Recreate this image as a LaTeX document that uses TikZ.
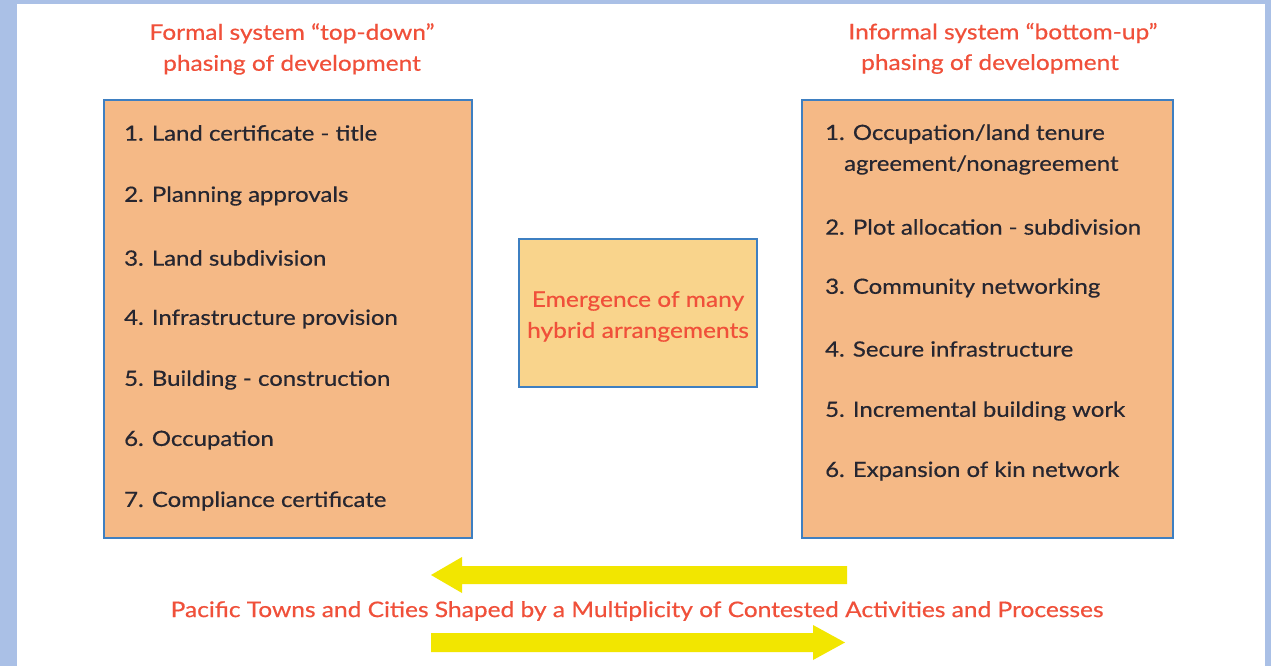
\documentclass[tikz,border=0pt]{standalone}
\usepackage{fontspec}
\setmainfont{Lato}
\newfontfamily\diagfont{Lato}[FakeStretch=1.14,FakeBold=0.5]
\usetikzlibrary{arrows.meta}
\definecolor{frame}{HTML}{AAC0E6}
\definecolor{boxfill}{HTML}{F5B986}
\definecolor{midfill}{HTML}{F9D48C}
\definecolor{boxline}{HTML}{3E7FC1}
\definecolor{redtext}{HTML}{F0503A}
\definecolor{arrowyel}{HTML}{F2E600}
\definecolor{darktext}{HTML}{262630}
\begin{document}
\begin{tikzpicture}[x=1pt,y=-1pt,
  panel/.style={draw=boxline,line width=1.6pt,fill=boxfill},
  midpanel/.style={draw=boxline,line width=1.6pt,fill=midfill},
  item/.style={anchor=west,inner sep=0pt,font=\diagfont\fontsize{21}{23}\selectfont,text=darktext},
  title/.style={align=center,inner sep=0pt,font=\diagfont\fontsize{21.5}{31}\selectfont,text=redtext},
  bigarrow/.style={draw=none,fill=arrowyel}]
\useasboundingbox (0,0) rectangle (1271,666);
\fill[frame] (0,0) rectangle (1271,666);
\fill[white] (17,4) rectangle (1265,666);
% titles
\node[title] (tl) at (292,49) {Formal system “top-down”\\phasing of development};
\node[title] (tr1) at (1003,33) {Informal system “bottom-up”};
\node[title] (tr2) at (990,64) {phasing of development};
% boxes
\path[panel] (104,100) rectangle (472,538);
\path[panel] (802,100) rectangle (1173,538);
\node[midpanel,minimum width=238pt,minimum height=148pt,inner sep=0pt] (mid) at (638,313) {};
\node[title] (midt) at (638,316.5) {Emergence of many\\hybrid arrangements};
% left items
\node[item] (l1) at (124,133) {1. Land certificate - title};
\node[item] (l2) at (124,196) {2. Planning approvals};
\node[item] (l3) at (124,258) {3. Land subdivision};
\node[item] (l4) at (124,319) {4. Infrastructure provision};
\node[item] (l5) at (124,380) {5. Building - construction};
\node[item] (l6) at (124,440) {6. Occupation};
\node[item] (l7) at (124,501) {7. Compliance certificate};
% right items
\node[item] (r1) at (825,134) {1. Occupation/land tenure};
\node[item] (r1b) at (844,165) {agreement/nonagreement};
\node[item] (r2) at (825,227) {2. Plot allocation - subdivision};
\node[item] (r3) at (825,288) {3. Community networking};
\node[item] (r4) at (825,349) {4. Secure infrastructure};
\node[item] (r5) at (825,411) {5. Incremental building work};
\node[item] (r6) at (825,471) {6. Expansion of kin network};
% arrows
\fill[bigarrow] (847,566) -- (462,566) -- (462,557) -- (431,575) -- (462,593) -- (462,584) -- (847,584) -- cycle;
\fill[bigarrow] (431,633) -- (813,633) -- (813,625) -- (845,642.5) -- (813,660) -- (813,652) -- (431,652) -- cycle;
\node[title] (bottom) at (637,611) {Pacific Towns and Cities Shaped by a Multiplicity of Contested Activities and Processes};
\end{tikzpicture}
\end{document}
